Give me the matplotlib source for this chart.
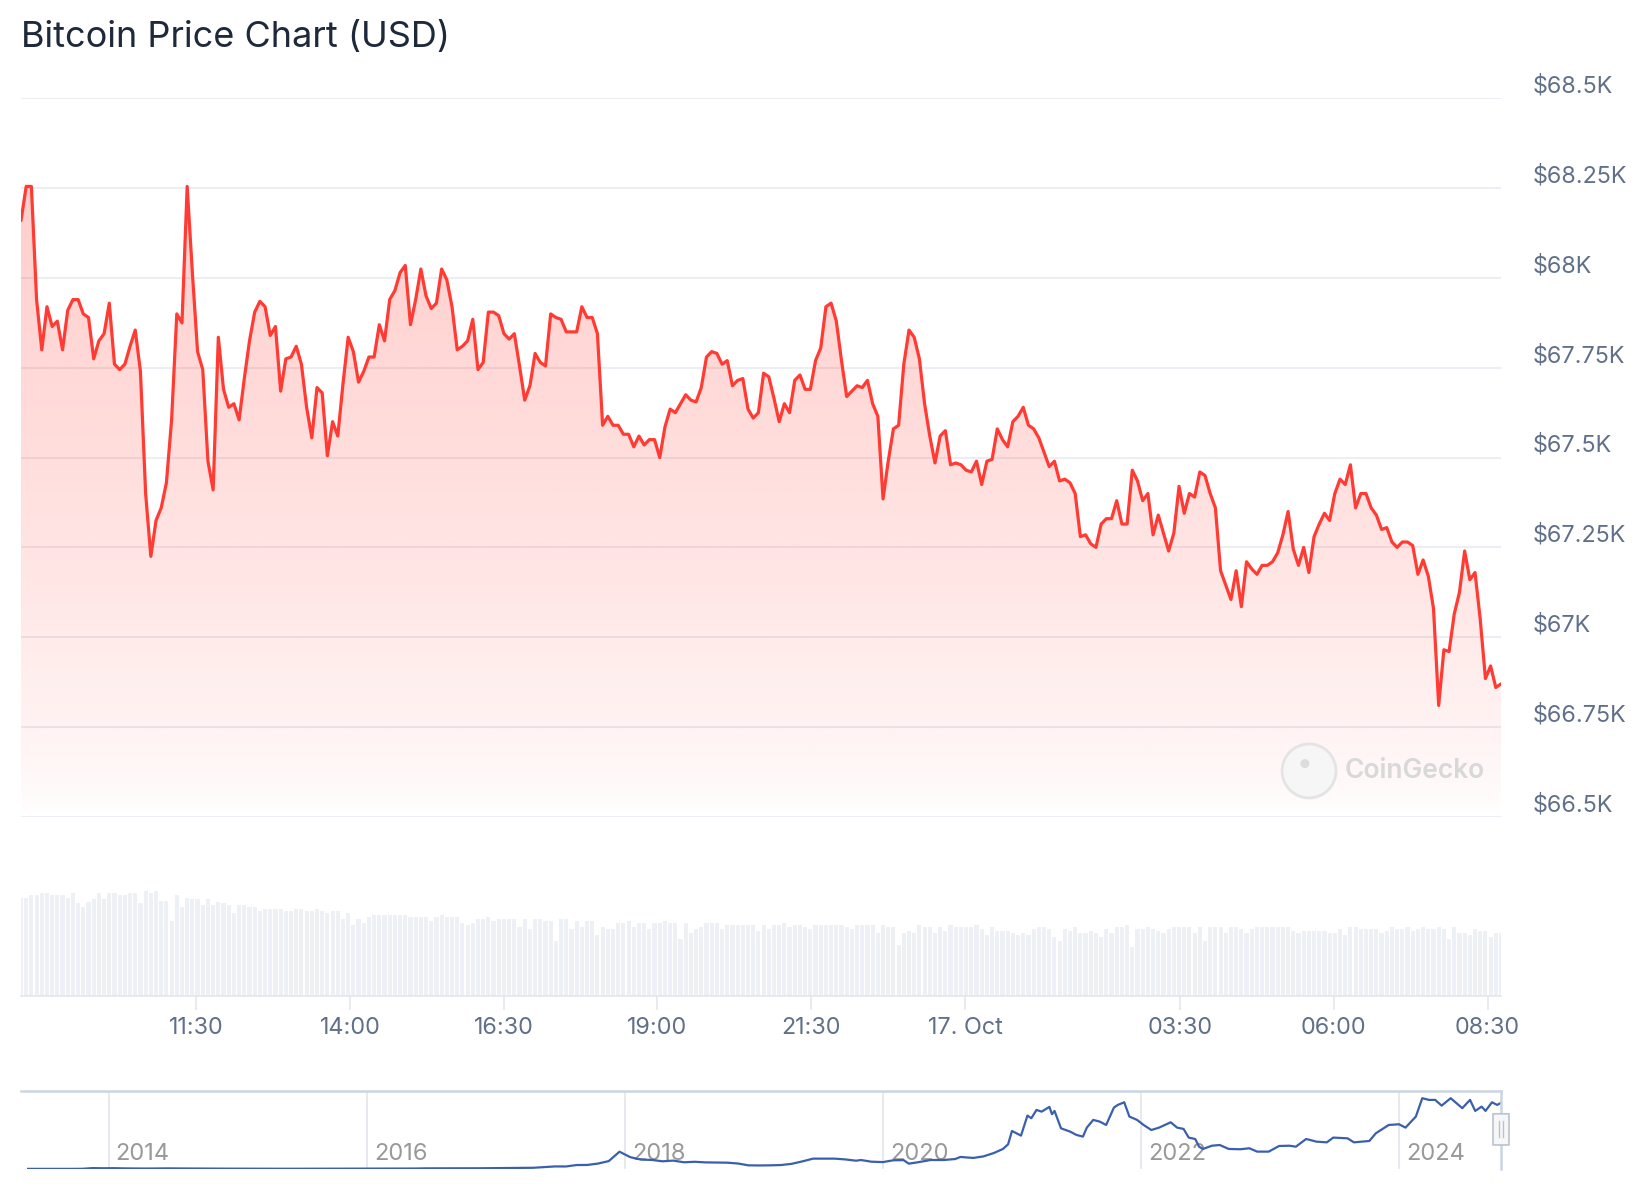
"""
Bitcoin 24h price chart (CoinGecko style) with volume and navigator.
"""

import numpy as np
import pandas as pd
import matplotlib
matplotlib.use("Agg")
import matplotlib.pyplot as plt
import matplotlib.transforms as mtransforms
from matplotlib.colors import to_rgb
from matplotlib.patches import Ellipse, FancyBboxPatch

plt.rcParams["font.family"] = ["Inter", "DejaVu Sans"]

W, H, DPI = 1644, 1200, 100

title = "Bitcoin Price Chart (USD)"
start_time = "2024-10-16 08:39"
end_time = "2024-10-17 08:43"

# price (USD), one point every ~5 minutes
prices = [
    68160, 68255, 68255, 67940, 67800, 67920, 67865, 67880, 67800, 67910,
    67940, 67940, 67900, 67890, 67775, 67825, 67845, 67930, 67760, 67745,
    67760, 67810, 67855, 67740, 67400, 67225, 67325, 67360, 67430, 67605,
    67900, 67875, 68255, 68015, 67795, 67745, 67490, 67410, 67835, 67690,
    67640, 67650, 67605, 67720, 67825, 67905, 67935, 67920, 67840, 67865,
    67685, 67775, 67780, 67810, 67760, 67640, 67555, 67695, 67680, 67505,
    67600, 67560, 67705, 67835, 67795, 67710, 67740, 67780, 67780, 67870,
    67825, 67940, 67965, 68015, 68035, 67870, 67940, 68025, 67950, 67915,
    67930, 68025, 67995, 67920, 67800, 67810, 67825, 67885, 67745, 67765,
    67905, 67905, 67895, 67845, 67830, 67845, 67755, 67660, 67700, 67790,
    67765, 67755, 67900, 67890, 67885, 67850, 67850, 67850, 67920, 67890,
    67890, 67845, 67590, 67615, 67590, 67590, 67565, 67565, 67530, 67560,
    67535, 67550, 67550, 67500, 67585, 67635, 67625, 67650, 67675, 67660,
    67655, 67695, 67780, 67795, 67790, 67760, 67770, 67700, 67715, 67720,
    67635, 67610, 67625, 67735, 67725, 67665, 67600, 67650, 67625, 67715,
    67730, 67690, 67690, 67770, 67805, 67920, 67930, 67880, 67770, 67670,
    67685, 67700, 67695, 67715, 67650, 67615, 67385, 67490, 67580, 67590,
    67760, 67855, 67835, 67775, 67650, 67560, 67485, 67560, 67575, 67480,
    67485, 67480, 67465, 67460, 67490, 67425, 67490, 67495, 67580, 67550,
    67530, 67600, 67615, 67640, 67590, 67580, 67555, 67515, 67475, 67490,
    67435, 67440, 67430, 67400, 67280, 67285, 67260, 67250, 67315, 67330,
    67330, 67380, 67315, 67315, 67465, 67435, 67380, 67400, 67285, 67340,
    67290, 67240, 67290, 67420, 67345, 67400, 67390, 67460, 67450, 67400,
    67360, 67185, 67145, 67105, 67185, 67085, 67210, 67190, 67175, 67200,
    67200, 67210, 67235, 67285, 67350, 67245, 67200, 67250, 67180, 67280,
    67315, 67345, 67325, 67400, 67440, 67425, 67480, 67360, 67400, 67400,
    67360, 67340, 67300, 67305, 67265, 67250, 67265, 67265, 67255, 67175,
    67215, 67170, 67080, 66810, 66965, 66960, 67065, 67125, 67240, 67160,
    67180, 67050, 66885, 66920, 66860, 66870,
]

# 24h volume (billion USD) at the same points
volumes_bn = [
    39.3, 39.3, 40.3, 40.3, 41.1, 41.1, 40.3, 40.3, 40.3, 39.3,
    41.1, 37.1, 35.6, 37.6, 38.7, 41.1, 38.7, 41.1, 41.1, 40.3,
    40.3, 41.1, 41.1, 37.1, 41.9, 41.1, 41.9, 37.9, 37.9, 29.9,
    40.3, 35.6, 39.3, 38.7, 38.7, 36.3, 38.7, 36.3, 37.6, 37.1,
    36.3, 33.1, 36.3, 36.3, 35.5, 35.5, 33.9, 34.7, 34.7, 34.7,
    34.7, 33.9, 33.9, 34.7, 34.7, 33.9, 33.9, 34.7, 33.9, 33.1,
    33.9, 33.9, 30.7, 33.1, 28.3, 30.7, 29.1, 31.5, 32.3, 32.3,
    32.3, 32.3, 32.3, 32.3, 32.3, 31.5, 31.5, 31.5, 31.5, 29.9,
    31.5, 32.3, 31.5, 31.5, 31.5, 29.1, 28.3, 29.1, 30.7, 30.7,
    31.5, 29.9, 30.7, 30.7, 30.7, 30.7, 27.5, 30.7, 26.7, 30.7,
    30.7, 29.9, 29.9, 21.9, 30.7, 30.7, 26.7, 29.9, 27.5, 29.9,
    29.9, 24.3, 27.5, 26.7, 26.7, 29.1, 29.1, 29.9, 27.5, 29.1,
    29.1, 26.7, 29.1, 29.1, 29.9, 29.1, 29.1, 22.7, 29.1, 25.1,
    26.7, 27.5, 29.1, 29.1, 29.1, 26.7, 28.3, 28.3, 28.3, 28.3,
    28.3, 28.3, 25.9, 28.3, 26.7, 28.3, 28.3, 29.1, 27.5, 28.3,
    28.3, 27.5, 26.7, 28.3, 28.3, 28.3, 28.3, 28.3, 28.3, 27.5,
    26.7, 28.3, 28.3, 28.3, 28.3, 25.1, 28.3, 27.5, 27.5, 20.3,
    25.1, 25.9, 25.1, 28.3, 27.5, 27.5, 25.1, 27.5, 25.9, 28.3,
    27.5, 27.5, 27.5, 27.5, 28.3, 26.7, 24.3, 27.5, 25.9, 25.9,
    25.9, 25.1, 24.3, 25.1, 24.3, 26.7, 27.5, 27.5, 26.7, 23.5,
    21.9, 26.7, 25.9, 27.5, 25.1, 25.1, 25.9, 25.1, 23.5, 26.7,
    25.1, 27.5, 27.5, 28.3, 19.5, 26.7, 26.7, 27.5, 26.7, 25.9,
    25.1, 26.7, 27.5, 27.5, 27.5, 27.5, 25.1, 27.5, 21.9, 27.5,
    27.5, 27.5, 25.1, 27.5, 27.5, 26.7, 25.1, 26.7, 27.5, 27.5,
    27.5, 27.5, 27.5, 27.5, 27.5, 25.9, 25.1, 25.9, 25.9, 25.9,
    25.9, 25.9, 25.1, 25.1, 26.7, 24.3, 27.5, 27.5, 26.7, 26.7,
    26.7, 26.7, 25.1, 25.9, 27.5, 26.7, 26.7, 27.5, 25.9, 26.7,
    27.5, 26.7, 26.7, 27.5, 26.7, 22.7, 27.5, 25.1, 25.1, 24.3,
    26.7, 25.9, 25.9, 23.5, 25.1, 25.1,
]

time_ticks = ["2024-10-16 11:30", "2024-10-16 14:00", "2024-10-16 16:30",
              "2024-10-16 19:00", "2024-10-16 21:30", "2024-10-17 00:00",
              "2024-10-17 03:30", "2024-10-17 06:00", "2024-10-17 08:30"]
time_labels = ["11:30", "14:00", "16:30", "19:00", "21:30", "17. Oct",
               "03:30", "06:00", "08:30"]

price_ticks = [66500, 66750, 67000, 67250, 67500, 67750, 68000, 68250, 68500]
price_labels = ["$66.5K", "$66.75K", "$67K", "$67.25K", "$67.5K", "$67.75K",
                "$68K", "$68.25K", "$68.5K"]

# navigator, part 1: monthly BTC price (USD) from 2013-05 to 2019-10
nav_monthly_start = "2013-05"
nav_monthly_prices = [
    120, 105, 95, 120, 130, 190, 900, 750,
    820, 600, 500, 450, 550, 620, 600, 500, 420, 350, 370, 330,
    240, 240, 260, 230, 235, 245, 280, 250, 235, 280, 360, 430,
    400, 410, 415, 440, 480, 650, 660, 580, 610, 650, 730, 850,
    950, 1100, 1100, 1250, 1950, 2600, 2550, 4000, 4100, 5500, 8000, 17500,
    12000, 9500, 9200, 7800, 8500, 6800, 7300, 6700, 6500, 6400, 5600, 3700,
    3600, 3700, 4000, 5200, 7700, 10500, 10500, 10500, 9700, 8400,
]
# navigator, part 2: BTC price (USD) at decimal-year dates, late 2019 onward
nav_recent_t = [
    2019.83, 2019.91, 2020.00, 2020.08, 2020.16, 2020.20, 2020.27, 2020.37,
    2020.47, 2020.56, 2020.60, 2020.70, 2020.78, 2020.86, 2020.93, 2020.97,
    2021.00, 2021.07, 2021.12, 2021.15, 2021.19, 2021.23, 2021.29, 2021.31,
    2021.33, 2021.38, 2021.45, 2021.50, 2021.55, 2021.58, 2021.63, 2021.68,
    2021.73, 2021.79, 2021.82, 2021.87, 2021.91, 2021.97, 2022.02, 2022.08,
    2022.14, 2022.23, 2022.28, 2022.33, 2022.37, 2022.42, 2022.45, 2022.48,
    2022.55, 2022.61, 2022.68, 2022.77, 2022.84, 2022.90, 2022.99, 2023.07,
    2023.15, 2023.20, 2023.28, 2023.36, 2023.44, 2023.49, 2023.60, 2023.65,
    2023.77, 2023.82, 2023.92, 2024.00, 2024.05, 2024.13, 2024.18, 2024.23,
    2024.28, 2024.33, 2024.40, 2024.49, 2024.55, 2024.59, 2024.64, 2024.67,
    2024.72, 2024.76, 2024.79,
]
nav_recent_prices = [
    9100, 7400, 7000, 8800, 9000, 5400, 6800, 9100,
    9100, 10100, 12200, 11200, 12800, 16200, 20300, 25000,
    38500, 33800, 54100, 51400, 59800, 58100, 62900, 55500,
    58800, 41200, 37900, 34500, 32800, 41900, 49700, 48000,
    44600, 62200, 64900, 67600, 53100, 49700, 44600, 39500,
    41900, 47300, 41900, 40600, 31800, 30400, 22600, 20300,
    23600, 24300, 20300, 20000, 21000, 17600, 17600, 23300,
    23600, 22600, 30400, 27700, 27000, 31800, 31100, 27000,
    28400, 36200, 44600, 45300, 41900, 53100, 71700, 70000,
    70000, 64200, 71700, 61600, 70000, 58800, 63200, 58800,
    67600, 64900, 66900,
]
nav_years = [2014, 2016, 2018, 2020, 2022, 2024]
nav_range = (2013.32, 2024.79)

LINE_COLOR = "#ff3b33"
GRID_COLOR = "#e9edf2"
LABEL_COLOR = "#607089"


def px_box(left, top, right, bottom):
    return [left / W, 1 - bottom / H, (right - left) / W, (bottom - top) / H]


def hours(ts):
    base = pd.Timestamp("2024-10-16 00:00")
    return (pd.to_datetime(ts) - base) / pd.Timedelta(hours=1)


times = pd.date_range(start_time, end_time, periods=len(prices))
x = np.asarray(hours(times), dtype=float)
tick_x = np.asarray(hours(time_ticks), dtype=float)
step = x[1] - x[0]

fig = plt.figure(figsize=(W / DPI, H / DPI), dpi=DPI)
fig.patch.set_facecolor("white")

fig.text(21 / W, 1 - 38 / H, title, ha="left", va="center",
         fontsize=26, color="#1e293b")

# ---- price pane
ax = fig.add_axes(px_box(21, 98.4, 1501, 816.8))
for v in price_ticks:
    ax.axhline(v, color=GRID_COLOR, lw=1.3, zorder=0.5)

poly = ax.fill_between(x, prices, price_ticks[0], facecolor="none",
                       edgecolor="none")
n = 256
grad = np.zeros((n, 1, 4))
grad[..., :3] = to_rgb(LINE_COLOR)
grad[:, 0, 3] = 0.25 * np.linspace(0, 1, n) ** 0.7
im = ax.imshow(grad, extent=[x[0], x[-1], price_ticks[0], max(prices)],
               origin="lower", aspect="auto", zorder=1, interpolation="bilinear")
im.set_clip_path(poly.get_paths()[0], transform=ax.transData)

ax.plot(x, prices, color=LINE_COLOR, lw=2.3, zorder=3,
        solid_joinstyle="round", solid_capstyle="round")

ax.set_xlim(x[0], x[-1])
ax.set_ylim(price_ticks[0], price_ticks[-1])
ax.axis("off")

lab_tr = mtransforms.offset_copy(ax.get_yaxis_transform(), fig=fig,
                                 x=0, y=12, units="dots")
for v, lab in zip(price_ticks, price_labels):
    ax.text((1533 - 21) / 1480, v, lab, transform=lab_tr, ha="left",
            va="center", fontsize=16.8, color=LABEL_COLOR)

# watermark
ax.add_patch(Ellipse((0.8703, 0.0638), 54 / 1480, 54 / 718.4,
                     transform=ax.transAxes, fc="#f6f6f6", ec="#e4e4e4",
                     lw=2, zorder=2))
ax.add_patch(Ellipse((0.8675, 0.074), 9 / 1480, 9 / 718.4,
                     transform=ax.transAxes, fc="#dcdcdc", ec="none", zorder=2))
ax.text(0.8946, 0.0638, "CoinGecko", transform=ax.transAxes, ha="left",
        va="center", fontsize=19, fontweight="semibold", color="#d8d8d8",
        zorder=2)

# ---- volume pane
ax_v = fig.add_axes(px_box(21, 846, 1501, 996))
ax_v.bar(x, volumes_bn, width=step * 0.8, color="#edf0f4", zorder=1)
ax_v.set_xlim(x[0], x[-1])
ax_v.set_ylim(0, 60)
for s in ["top", "left", "right"]:
    ax_v.spines[s].set_visible(False)
ax_v.spines["bottom"].set_color("#e3e7ed")
ax_v.spines["bottom"].set_linewidth(1.2)
ax_v.set_yticks([])
ax_v.set_xticks(tick_x)
ax_v.set_xticklabels(time_labels)
ax_v.tick_params(axis="x", length=10, width=1.2, color="#e3e7ed", pad=5,
                 labelsize=16.8, labelcolor=LABEL_COLOR)
ax_v.patch.set_alpha(0)

# ---- navigator
nav_dates = pd.date_range(nav_monthly_start, periods=len(nav_monthly_prices),
                          freq="MS")
nav_x = list(nav_dates.year + (nav_dates.month - 0.5) / 12) + nav_recent_t
nav_y = nav_monthly_prices + nav_recent_prices

ax_n = fig.add_axes(px_box(21, 1091, 1501, 1169))
for yr in nav_years:
    ax_n.axvline(yr, color="#e2e5ea", lw=1.2, zorder=0)
yr_tr = mtransforms.offset_copy(ax_n.get_xaxis_transform(), fig=fig,
                                x=7, y=0, units="dots")
for yr in nav_years:
    ax_n.text(yr, 0.19, str(yr), transform=yr_tr, ha="left", va="center",
              fontsize=17, color="#999999", zorder=1)
ax_n.plot(nav_x, nav_y, color="#3a5fae", lw=1.6, zorder=2)
ax_n.set_xlim(*nav_range)
ax_n.set_ylim(0, 79000)
for s in ["left", "bottom"]:
    ax_n.spines[s].set_visible(False)
for s in ["top", "right"]:
    ax_n.spines[s].set_color("#cbd5e1")
    ax_n.spines[s].set_linewidth(1.8)
ax_n.set_xticks([])
ax_n.set_yticks([])

# navigator handle
hw = 16 / 1480
ax_n.add_patch(FancyBboxPatch((1 - hw / 2, 0.308), hw, 0.40,
                              boxstyle="round,pad=0,rounding_size=0.002",
                              transform=ax_n.transAxes, fc="#f7f7f7",
                              ec="#b9c3d0", lw=1.2, clip_on=False, zorder=5))
for dx in (-2 / 1480, 2 / 1480):
    ax_n.plot([1 + dx, 1 + dx], [0.41, 0.61], transform=ax_n.transAxes,
              color="#b9c3d0", lw=1, clip_on=False, zorder=6)

fig.savefig("out.png", dpi=DPI)
